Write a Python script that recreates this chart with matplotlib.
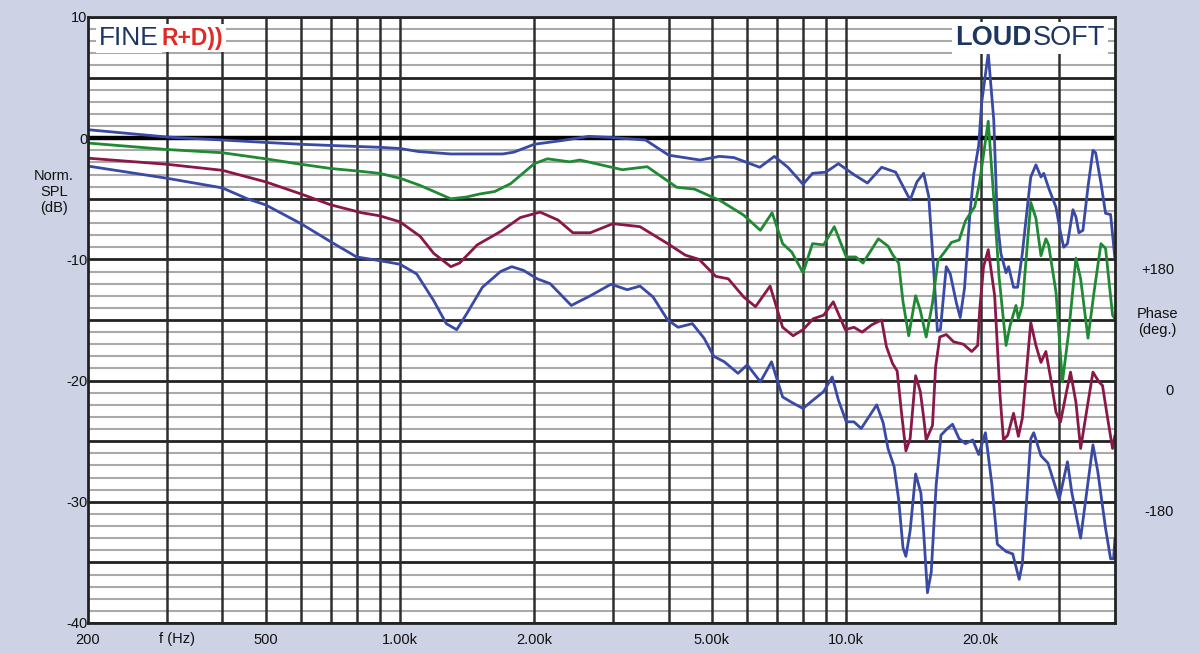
import matplotlib
matplotlib.use('Agg')
import matplotlib.pyplot as plt

plt.rcParams['font.family'] = ['Liberation Sans', 'DejaVu Sans']

# Values: frequency in Hz, normalised SPL in dB
top_blue_f = [200, 300, 400, 500, 600, 700, 900, 1000, 1100, 1300, 1700, 1800, 2000, 2300,
              2650, 3000, 3550, 4000, 4700, 5200, 5600, 6400, 6900, 7400, 8000, 8400, 9000,
              9600, 10400, 11150, 12000, 12900, 13900, 14400, 14900, 15300, 15700, 16000,
              16250, 16750, 17100, 17650, 18000, 18400, 18900, 19300, 19800, 20100, 20800,
              21400, 21800, 22200, 22800, 23100, 23700, 24200, 24800, 25500, 25900, 26600,
              27300, 27700, 28400, 29500, 30200, 30700, 31300, 32200, 32700, 33200, 33900,
              34800, 35700, 36200, 37200, 38100, 39100, 40000]
top_blue_db = [0.7, 0.1, -0.15, -0.35, -0.5, -0.6, -0.75, -0.85, -1.1, -1.3, -1.3, -1.15, -0.5,
               -0.2, 0.15, 0.05, -0.15, -1.4, -1.8, -1.5, -1.6, -2.4, -1.5, -2.4, -3.8, -2.9,
               -2.8, -2.1, -3.0, -3.7, -2.4, -2.8, -5.1, -3.6, -2.9, -4.8, -10.9, -15.9, -15.8,
               -10.6, -11.2, -13.6, -14.8, -12.4, -6.5, -3.0, -0.6, 2.9, 7.0, 1.5, -6.8, -9.5,
               -11.1, -10.6, -12.3, -12.3, -9.5, -5.4, -3.2, -2.2, -3.2, -2.9, -4.1, -5.7, -7.8,
               -9.0, -8.7, -5.9, -6.5, -7.8, -7.6, -4.0, -1.0, -1.2, -3.7, -6.2, -6.3, -10.0]

green_f = [200, 300, 400, 500, 600, 700, 800, 900, 1000, 1110, 1300, 1410, 1510, 1630, 1770,
           2000, 2140, 2400, 2530, 2900, 3150, 3580, 4170, 4570, 5220, 5890, 6420, 6820, 7200,
           7550, 8000, 8400, 8900, 9400, 10000, 10500, 10900, 11800, 12400, 12700, 13100,
           13400, 13800, 14300, 14650, 15100, 15600, 16050, 16750, 17200, 17900, 18500, 19400,
           19900, 20800, 21500, 22000, 22800, 23300, 24000, 24300, 24800, 25900, 26600, 27300,
           28000, 28400, 29500, 30500, 31500, 32700, 33500, 34800, 35900, 37200, 38100, 39500,
           40000]
green_db = [-0.4, -0.93, -1.2, -1.7, -2.15, -2.5, -2.7, -2.9, -3.3, -3.9, -5.0, -4.85, -4.6,
            -4.4, -3.75, -2.1, -1.7, -1.95, -1.8, -2.3, -2.6, -2.35, -4.05, -4.2, -5.15, -6.35,
            -7.6, -6.15, -8.7, -9.4, -11.1, -8.7, -8.8, -7.3, -9.8, -9.8, -10.3, -8.3, -8.9,
            -9.6, -10.3, -13.5, -16.3, -13.0, -14.2, -16.4, -13.6, -10.1, -9.2, -8.6, -8.4,
            -6.8, -5.65, -3.6, 1.4, -6.0, -11.5, -17.1, -15.4, -13.8, -14.9, -13.8, -5.3, -6.6,
            -9.7, -8.3, -8.8, -12.7, -20.1, -16.0, -9.9, -11.6, -16.5, -12.7, -8.7, -9.1,
            -14.6, -14.9]

maroon_f = [200, 300, 400, 455, 500, 600, 700, 820, 900, 1000, 1110, 1190, 1300, 1360, 1490,
            1680, 1860, 2060, 2260, 2440, 2670, 3000, 3450, 3980, 4360, 4680, 5100, 5440, 5890,
            6260, 6750, 7200, 7600, 8000, 8430, 8900, 9350, 9950, 10400, 10850, 11400, 12000,
            12300, 12700, 13000, 13300, 13600, 13900, 14300, 14650, 14900, 15100, 15600, 15850,
            16200, 16750, 17400, 18300, 19100, 19700, 19900, 20300, 20800, 21500, 22100, 22500,
            23000, 23700, 24300, 24800, 25900, 26600, 27300, 28000, 28700, 29500, 30200, 31000,
            31800, 32700, 33500, 34800, 35700, 36800, 37500, 38500, 39500, 40000]
maroon_db = [-1.65, -2.15, -2.65, -3.2, -3.6, -4.6, -5.5, -6.15, -6.4, -6.9, -8.1, -9.5, -10.6,
             -10.3, -8.8, -7.7, -6.55, -6.1, -6.75, -7.8, -7.8, -7.05, -7.3, -8.7, -9.65, -10.0,
             -11.4, -11.6, -13.1, -13.9, -12.2, -15.6, -16.3, -15.8, -14.9, -14.6, -13.5, -15.8,
             -15.6, -16.0, -15.4, -15.0, -17.2, -18.6, -19.2, -22.7, -25.8, -24.8, -19.6, -20.9,
             -23.0, -24.9, -23.7, -18.9, -16.4, -16.2, -16.8, -17.0, -17.6, -17.1, -14.2, -10.6,
             -9.2, -13.0, -21.2, -24.9, -24.5, -22.7, -24.6, -23.1, -15.2, -17.1, -18.5, -17.6,
             -19.8, -22.6, -23.4, -21.3, -19.3, -21.8, -25.6, -21.8, -19.3, -20.1, -20.4, -23.1,
             -25.6, -24.5]

low_blue_f = [200, 300, 400, 455, 500, 600, 700, 800, 900, 1000, 1090, 1190, 1270, 1340, 1410,
              1530, 1680, 1780, 1890, 2030, 2170, 2420, 2670, 2970, 3230, 3450, 3690, 3980,
              4200, 4520, 4800, 5050, 5330, 5720, 6000, 6420, 6800, 7200, 7550, 8000, 8430,
              8900, 9300, 9600, 10000, 10400, 10800, 11700, 12100, 12400, 12800, 13100, 13400,
              13600, 13900, 14300, 14700, 14900, 15200, 15500, 15900, 16300, 16800, 17300,
              17900, 18500, 19200, 19800, 20500, 21200, 21800, 22800, 23600, 24400, 24800,
              25900, 26300, 27300, 28300, 29200, 30000, 31300, 32000, 33500, 35700, 36600,
              38100, 39100, 39700, 40000]
low_blue_db = [-2.3, -3.3, -4.1, -5.0, -5.5, -7.05, -8.55, -9.8, -10.1, -10.4, -11.2, -13.4,
               -15.3, -15.8, -14.5, -12.3, -11.0, -10.6, -10.9, -11.6, -12.0, -13.8, -13.0,
               -12.05, -12.5, -12.2, -13.1, -15.0, -15.6, -15.3, -16.5, -18.0, -18.45, -19.4,
               -18.7, -20.1, -18.45, -21.35, -21.8, -22.3, -21.6, -20.9, -19.7, -21.6, -23.4,
               -23.4, -23.95, -22.0, -23.5, -25.6, -27.1, -29.8, -33.8, -34.5, -32.4, -27.7,
               -29.3, -32.4, -37.5, -35.8, -28.6, -24.5, -24.0, -23.6, -24.8, -25.2, -24.9,
               -26.1, -24.3, -28.6, -33.5, -34.1, -34.3, -36.4, -35.1, -24.8, -24.3, -26.2,
               -26.8, -28.4, -29.8, -26.7, -29.2, -33.0, -25.3, -27.5, -32.2, -34.7, -34.7,
               -33.0]

x_ticks = [200, 500, 1000, 2000, 5000, 10000, 20000]
x_tick_labels = ['200', '500', '1.00k', '2.00k', '5.00k', '10.0k', '20.0k']
x_grid = [300, 400, 500, 600, 700, 800, 900, 1000, 2000, 3000, 4000, 5000, 6000, 7000,
          8000, 9000, 10000, 20000, 30000]
y_ticks = [10, 0, -10, -20, -30, -40]

bg = '#cdd3e5'
blue = '#3949a6'
green = '#1f8a33'
maroon = '#8a1747'
navy = '#1c3664'

fig = plt.figure(figsize=(12, 6.53), dpi=100, facecolor=bg)
ax = fig.add_axes([88 / 1200, 1 - 623 / 653, (1115 - 88) / 1200, (623 - 17) / 653])
ax.set_facecolor('white')
ax.set_xscale('log')
ax.set_xlim(200, 40000)
ax.set_ylim(-40, 10)

# grid
for db in range(-40, 11):
    if db == 0:
        ax.axhline(db, color='black', lw=3.2, zorder=2)
    elif db % 5 == 0:
        ax.axhline(db, color='#222222', lw=2.0, zorder=1.5)
    else:
        ax.axhline(db, color='#a9a9a9', lw=1.5, zorder=1)
for f in x_grid:
    ax.axvline(f, color='#2e2e2e', lw=1.8, zorder=1.6)

for fx, dbs, col in [(top_blue_f, top_blue_db, blue), (green_f, green_db, green),
                     (maroon_f, maroon_db, maroon), (low_blue_f, low_blue_db, blue)]:
    ax.plot(fx, dbs, color=col, lw=2.0, zorder=3, solid_joinstyle='round',
            solid_capstyle='round')

for s in ax.spines.values():
    s.set_linewidth(2.0)
    s.set_color('#222222')
    s.set_zorder(4)

ax.set_xticks(x_ticks)
ax.set_xticklabels(x_tick_labels)
ax.xaxis.set_minor_locator(matplotlib.ticker.NullLocator())
ax.set_yticks(y_ticks)
ax.set_yticklabels([str(v) for v in y_ticks])
ax.tick_params(axis='both', length=0, labelsize=10.5, colors='#111111')
ax.tick_params(axis='x', pad=7)
ax.tick_params(axis='y', pad=0.5)

# axis captions
fig.text(54 / 1200, 1 - 192 / 653, 'Norm.\nSPL\n(dB)', ha='center', va='center',
         fontsize=10.5, linespacing=1.15, color='#111111')
fig.text(177 / 1200, 1 - 639 / 653, 'f (Hz)', ha='center', va='center', fontsize=10.5,
         color='#111111')
phase_labels = [('+180', 270), ('0', 391), ('-180', 512)]
for lab, py in phase_labels:
    fig.text(1174 / 1200, 1 - py / 653, lab, ha='right', va='center', fontsize=10.5,
             color='#111111')
fig.text(1157 / 1200, 1 - 322 / 653, 'Phase\n(deg.)', ha='center', va='center',
         fontsize=10.5, linespacing=1.1, color='#111111')

# logos
fig.canvas.draw()
r = fig.canvas.get_renderer()
t1 = fig.text(99 / 1200, 1 - 38 / 653, 'FINE', ha='left', va='center', fontsize=19,
              color=navy, zorder=6,
              bbox=dict(facecolor='white', edgecolor='none', pad=2))
ext = t1.get_window_extent(r)
fig.text((ext.x1 + 3) / 1200, 1 - 38 / 653, 'R+D))', ha='left', va='center', fontsize=16.5,
         fontweight='bold', color='#e02a26', zorder=6,
         bbox=dict(facecolor='white', edgecolor='none', pad=2))

t2 = fig.text(955 / 1200, 1 - 38 / 653, 'LOUD', ha='left', va='center', fontsize=19.5,
              fontweight='bold', color=navy, zorder=6,
              bbox=dict(facecolor='white', edgecolor='none', pad=2))
ext = t2.get_window_extent(r)
fig.text((ext.x1 + 1) / 1200, 1 - 38 / 653, 'SOFT', ha='left', va='center', fontsize=19.5,
         color=navy, zorder=6,
         bbox=dict(facecolor='white', edgecolor='none', pad=2))

fig.savefig('out.png', dpi=100, facecolor=bg)
